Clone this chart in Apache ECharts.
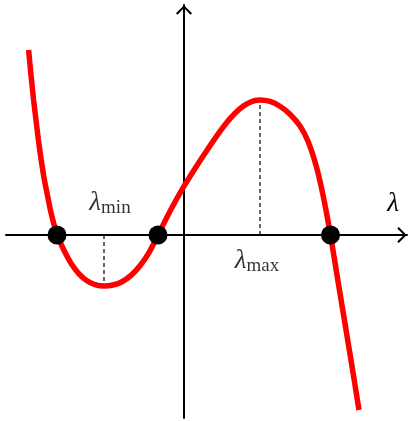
<!DOCTYPE html>
<html lang="en">
<head>
    <meta charset="UTF-8">
    <title>cubic</title>
    <script src="https://cdn.jsdelivr.net/npm/echarts@6/dist/echarts.min.js"></script>
    <style>
        html, body { margin: 0; padding: 0; background: #fff; }
    </style>
</head>
<body>
<div id="main" style="width: 408px;height: 421px;"></div>
<script type="text/javascript">
// curve (x = lambda, y = f(lambda))
var curveX = [-3.885, -3.825, -3.76, -3.7, -3.64, -3.57, -3.49, -3.41, -3.34, -3.26, -3.175,
              -3.075, -2.95, -2.8, -2.625, -2.425, -2.225, -2.0, -1.775, -1.55, -1.325, -1.1, -0.875, -0.65,
              -0.35, 0.0, 0.3, 0.575, 0.9, 1.15, 1.4, 1.65, 1.9,
              2.15, 2.4, 2.65, 2.9, 3.1, 3.3, 3.475, 3.6625, 3.845, 4.0225, 4.215, 4.375];
var curveY = [4.625, 4.0, 3.375, 2.875, 2.375, 1.875, 1.375, 0.975, 0.625, 0.3, 0.0,
              -0.225, -0.48, -0.745, -0.97, -1.145, -1.24, -1.275, -1.25, -1.17, -1.01, -0.77, -0.44, 0.0,
              0.595, 1.22, 1.7, 2.12, 2.59, 2.91, 3.16, 3.32, 3.375,
              3.34, 3.22, 3.02, 2.725, 2.345, 1.745, 1.0, 0.0, -1.125, -2.2, -3.375, -4.375];
var roots = [-3.175, -0.65, 3.6625];
var lamMin = [-2.0, -1.275];
var lamMax = [1.9, 3.375];

var curve = curveX.map(function (x, i) { return [x, curveY[i]]; });

var myChart = echarts.init(document.getElementById('main'));

// open chevron for the axis ends
var chevron = 'path://M8,0 L16,8 L14.6,9.4 L8,2.8 L1.4,9.4 L0,8 Z';

var serif = 'Liberation Serif';
var labelRich = {
    l: { fontFamily: serif, fontStyle: 'italic', fontSize: 27, color: '#000' },
    s: { fontFamily: serif, fontSize: 19, color: '#000', padding: [11, 0, 0, 0] }
};

myChart.setOption({
    animation: false,
    grid: { left: 6, right: 1, top: 5, bottom: 3 },
    xAxis: {
        type: 'value', min: -4.45, max: 5.575,
        axisLine: { onZero: true, symbol: ['none', chevron], symbolSize: [16, 10], symbolOffset: [0, -5],
            lineStyle: { color: '#000', width: 2 } },
        axisTick: { show: false }, axisLabel: { show: false }, splitLine: { show: false },
        name: 'λ', nameLocation: 'end', nameGap: -14,
        nameTextStyle: { fontFamily: serif, fontStyle: 'italic', fontSize: 27, color: '#000',
            align: 'center', verticalAlign: 'bottom', padding: [0, 0, 18, 0] }
    },
    yAxis: {
        type: 'value', min: -4.575, max: 5.75,
        axisLine: { onZero: true, symbol: ['none', chevron], symbolSize: [16, 10], symbolOffset: [0, -5],
            lineStyle: { color: '#000', width: 2 } },
        axisTick: { show: false }, axisLabel: { show: false }, splitLine: { show: false }
    },
    series: [
        {
            type: 'line', data: [[lamMin[0], 0], lamMin], symbol: 'none', z: 2,
            lineStyle: { color: '#000', width: 1.2, type: [4, 3] }
        },
        {
            type: 'line', data: [[lamMax[0], 0], lamMax], symbol: 'none', z: 2,
            lineStyle: { color: '#000', width: 1.2, type: [4, 3] }
        },
        {
            type: 'line', data: curve, smooth: 0.2, symbol: 'none', z: 3,
            lineStyle: { color: '#ff0000', width: 5.5 }
        },
        {
            type: 'scatter', data: roots.map(function (r) { return [r, 0]; }), z: 4,
            symbolSize: 19, itemStyle: { color: '#000', opacity: 1 }
        },
        {
            type: 'scatter', symbolSize: 0, z: 5,
            data: [
                { value: [lamMin[0], 0], label: { show: true, position: 'top', distance: 17, offset: [6, 0],
                    formatter: '{l|λ}{s|min}', rich: labelRich } },
                { value: [lamMax[0], 0], label: { show: true, position: 'bottom', distance: 11, offset: [-3, 0],
                    formatter: '{l|λ}{s|max}', rich: labelRich } }
            ]
        }
    ]
});
</script>

</body>
</html>
